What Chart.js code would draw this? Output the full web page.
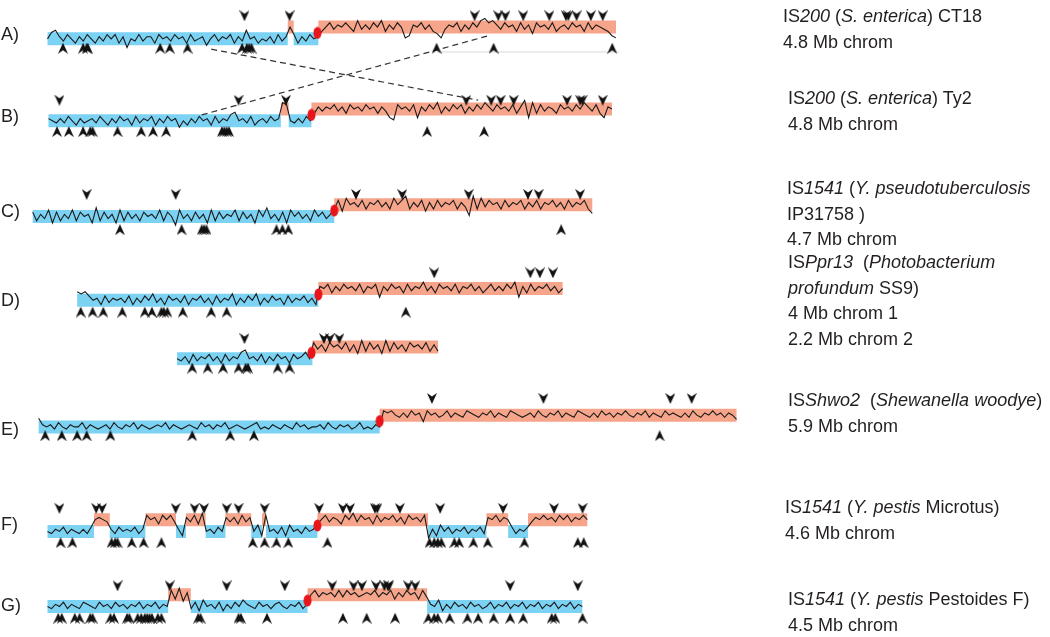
<!DOCTYPE html>
<html>
<head>
<meta charset="utf-8">
<script src="https://cdn.jsdelivr.net/npm/chart.js@4.4.1/dist/chart.umd.min.js"></script>
<style>
  html, body { margin: 0; padding: 0; background: #fff; }
  #wrap { position: relative; width: 1050px; height: 637px; }
  #map { position: absolute; left: 0; top: 0; }
  .lbl { position: absolute; font-family: 'Liberation Sans', Arial, sans-serif; font-size: 18px; color: #231f20; line-height: 25.5px; white-space: nowrap; }
</style>
</head>
<body>
<div id="wrap">
  <canvas id="map" width="1050" height="637"></canvas>
  <div class="lbl" style="left:1px;top:22px">A)</div>
  <div class="lbl" style="left:1px;top:104px">B)</div>
  <div class="lbl" style="left:1px;top:199px">C)</div>
  <div class="lbl" style="left:1px;top:288px">D)</div>
  <div class="lbl" style="left:1px;top:417px">E)</div>
  <div class="lbl" style="left:1px;top:512px">F)</div>
  <div class="lbl" style="left:1px;top:593px">G)</div>

  <div class="lbl" style="left:783px;top:4px">IS<i>200</i> (<i>S. enterica</i>) CT18<br>4.8 Mb chrom</div>
  <div class="lbl" style="left:788px;top:86px">IS<i>200</i> (<i>S. enterica</i>) Ty2<br>4.8 Mb chrom</div>
  <div class="lbl" style="left:787px;top:176px">IS<i>1541</i> (<i>Y. pseudotuberculosis</i><br>IP31758 )<br>4.7 Mb chrom</div>
  <div class="lbl" style="left:788px;top:250px">IS<i>Ppr13</i>&nbsp; (<i>Photobacterium</i><br><i>profundum</i> SS9)<br>4 Mb chrom 1<br>2.2 Mb chrom 2</div>
  <div class="lbl" style="left:788px;top:388px">IS<i>Shwo2</i>&nbsp; (<i>Shewanella woodye</i>)<br>5.9 Mb chrom</div>
  <div class="lbl" style="left:785px;top:495px">IS<i>1541</i> (<i>Y. pestis</i> Microtus)<br>4.6 Mb chrom</div>
  <div class="lbl" style="left:788px;top:587px">IS<i>1541</i> (<i>Y. pestis</i> Pestoides F)<br>4.5 Mb chrom</div>
</div>
<script>
// chromosomes drawn on one shared axis, positions in Mb
const tracks = ['A', 'B', 'C', 'D1', 'D2', 'E', 'F', 'G'];

// band breakpoints (Mb) and strand of each band (0 = blue, 1 = salmon)
const breaksA = [0.350, 2.375, 2.425, 2.633, 5.142];
const strandA = [0, 1, 0, 1];
const breaksB = [0.358, 2.317, 2.383, 2.575, 5.108];
const strandB = [0, 1, 0, 1];
const breaksC = [0.225, 2.767, 4.942];
const strandC = [0, 1];
const breaksD1 = [0.600, 2.633, 4.692];
const strandD1 = [0, 1];
const breaksD2 = [1.442, 2.583, 3.642];
const strandD2 = [0, 1];
const breaksE = [0.275, 3.150, 6.158];
const strandE = [0, 1];
const breaksF = [0.350, 0.742, 0.875, 1.175, 1.433, 1.517, 1.683, 1.850, 2.067, 2.158, 2.192, 2.625, 3.558, 4.050, 4.233, 4.400, 4.900];
const strandF = [0, 1, 0, 1, 0, 1, 0, 1, 0, 1, 0, 1, 0, 1, 0, 1];
const breaksG = [0.350, 1.367, 1.558, 2.542, 3.550, 4.858];
const strandG = [0, 1, 0, 1, 0];

// origin of replication (red dot)
const origins = [2.625, 2.575, 2.767, 2.633, 2.575, 3.150, 2.625, 2.542];

// IS copies: above the track and below the track
const topA = [2.01, 2.39, 3.95, 4.15, 4.21, 4.36, 4.58, 4.72, 4.74, 4.81, 4.93, 5.03];
const botA = [0.48, 0.65, 0.68, 0.69, 1.30, 1.38, 1.53, 1.99, 2.03, 2.05, 2.07, 3.63, 4.11, 5.11];
const topB = [0.45, 1.96, 2.36, 3.88, 4.09, 4.17, 4.28, 4.73, 4.84, 4.86, 5.03];
const botB = [0.43, 0.53, 0.65, 0.71, 0.73, 0.94, 1.14, 1.24, 1.35, 1.82, 1.84, 1.86, 1.88, 3.55, 4.03];
const topC = [0.68, 1.43, 2.95, 3.34, 3.90, 4.40, 4.49, 4.84];
const botC = [0.96, 1.48, 1.65, 1.67, 1.69, 2.28, 2.33, 2.38, 4.68];
const topD1 = [3.61, 4.42, 4.50, 4.61];
const botD1 = [0.63, 0.73, 0.82, 0.98, 1.17, 1.23, 1.31, 1.33, 1.36, 1.49, 1.73, 1.86, 3.37];
const topD2 = [2.01, 2.68, 2.73, 2.81];
const botD2 = [1.57, 1.70, 1.83, 1.96, 2.02, 2.04, 2.29, 2.39];
const topE = [3.59, 4.53, 5.60, 5.78];
const botE = [0.33, 0.47, 0.60, 0.68, 0.88, 1.57, 1.89, 2.09, 5.51];
const topF = [0.45, 0.76, 0.81, 1.43, 1.59, 1.67, 1.86, 1.96, 2.18, 2.64, 2.84, 2.90, 3.11, 3.13, 3.32, 3.66, 4.19, 4.62, 4.86];
const botF = [0.46, 0.56, 0.89, 0.92, 0.94, 1.06, 1.16, 1.31, 2.08, 2.18, 2.28, 2.38, 2.71, 3.57, 3.61, 3.64, 3.67, 3.78, 3.82, 3.94, 4.06, 4.37, 4.82, 4.87];
const topG = [0.94, 1.38, 1.86, 2.35, 2.75, 2.93, 3.00, 3.12, 3.19, 3.22, 3.23, 3.39, 3.45, 4.25, 4.82];
const botG = [0.44, 0.47, 0.58, 0.62, 0.71, 0.73, 0.88, 0.91, 1.02, 1.04, 1.11, 1.14, 1.17, 1.19, 1.21, 1.23, 1.28, 1.31, 1.62, 1.64, 1.96, 1.98, 2.20, 2.84, 3.04, 3.28, 3.56, 3.61, 3.64, 3.74, 3.89, 3.98, 4.11, 4.25, 4.36, 4.60, 4.63, 4.86];

// skew trace read along each track, one digit per sample (5 = zero)
const skewA = '5896475364 7536475736 1547466375 6475637456 2574657364 9563546374 6573647563 5746575384 6475836475 0165746320 4657364758 9786475637 4627564735 6475637465 4310';
const skewB = '6546475364 5647536475 6374657364 7562536475 6374658956 4735647568 7546475364 6574637564 7563641075 6471647583 6475736475 8647564736 9183746537 5647586473 165';
const skewC = '7364827364 8375629374 6283746375 6483751846 3746283746 5837462859 4637285746 3857463728 5647365746 3857936472 6374657364 0938475637 4657364736 5746374657 31';
const skewD1 = '9897563746 5647364758 4637564736 5746374658 3647583647 5637465746 3657364756 4736571647 5637465846 3756473657 4635746475 8163746574 635';
const skewD2 = '5463746574 6374658956 4736475637 5685746375 6473628374 6283746375 647363';
const skewE = '9656475465 5746545647 5465746545 6574654565 4756465745 6545674546 5465475645 5647546564 5745465767 5464756275 6457465476 5465746547 6545647546 5746547654 6475646575 4657465475 6546475465 7564653';
const skewF = '5465746546 4756546475 6574675637 5746364738 5647564637 4658375647 3856475635 7465375847 5637465746 3756472638 5746574657 4657465746 5746575647 5746575';
const skewG = '5465746547 6547564756 4657465746 5738264738 5647364758 6547564675 4657465746 5647475645 6574657364 7563746583 6475647564 5746574657 4657465746 57465';

// dashed links between the two S. enterica maps (Mb on upper / lower track)
const linkUpper = [1.73, 4.06];
const linkLower = [3.98, 1.65];

// ---- layout ----
const baseY = [33.5, 117, 214.5, 300, 359.5, 429, 535.5, 612];
const topY = [10, 96, 192, 272, 339, 400, 512, 591];
const botY = [43, 128, 228, 312, 369, 438, 547, 624];
const LEVEL = 12;
const AMP = 2.2;
const BLUE = '#7bd2f3';
const SALMON = '#f6a48a';

const allBreaks = [breaksA, breaksB, breaksC, breaksD1, breaksD2, breaksE, breaksF, breaksG];
const allStrands = [strandA, strandB, strandC, strandD1, strandD2, strandE, strandF, strandG];
const allTop = [topA, topB, topC, topD1, topD2, topE, topF, topG];
const allBot = [botA, botB, botC, botD1, botD2, botE, botF, botG];
const allSkew = [skewA, skewB, skewC, skewD1, skewD2, skewE, skewF, skewG];

function strandAt(breaks, strand, x) {
  for (let i = 0; i < strand.length; i++) {
    if (x < breaks[i + 1]) return strand[i];
  }
  return strand[strand.length - 1];
}

function arrowCanvas(up) {
  const c = document.createElement('canvas');
  c.width = 10; c.height = 11;
  const g = c.getContext('2d');
  g.fillStyle = '#111';
  g.beginPath();
  if (up) {
    g.moveTo(5, 0); g.lineTo(10, 11); g.lineTo(5, 7.5); g.lineTo(0, 11);
  } else {
    g.moveTo(0, 0); g.lineTo(5, 3.5); g.lineTo(10, 0); g.lineTo(5, 11);
  }
  g.closePath();
  g.fill();
  return c;
}

function dotCanvas() {
  const c = document.createElement('canvas');
  c.width = 9; c.height = 13;
  const g = c.getContext('2d');
  g.fillStyle = '#e8151b';
  g.beginPath();
  g.ellipse(4.5, 6.5, 4, 6, 0, 0, Math.PI * 2);
  g.fill();
  return c;
}

const blueBands = [], salmonBands = [], trace = [], upArrows = [], downArrows = [], dots = [];
tracks.forEach(function(name, t) {
  const br = allBreaks[t], st = allStrands[t];
  st.forEach(function(s, i) {
    const y = baseY[t] - s * LEVEL;
    const target = s ? salmonBands : blueBands;
    target.push({ x: br[i], y: y }, { x: br[i + 1], y: y }, { x: br[i + 1], y: null });
  });
  const digits = allSkew[t].replace(/\s/g, '');
  const x0 = br[0], x1 = br[br.length - 1];
  for (let i = 0; i < digits.length; i++) {
    const x = x0 + i * (x1 - x0) / (digits.length - 1);
    const lvl = strandAt(br, st, x);
    trace.push({ x: x, y: baseY[t] - lvl * LEVEL - (Number(digits[i]) - 5) * AMP });
  }
  trace.push({ x: x1, y: null });
  allTop[t].forEach(function(x) { downArrows.push({ x: x, y: topY[t] }); });
  allBot[t].forEach(function(x) { upArrows.push({ x: x, y: botY[t] }); });
  dots.push({ x: origins[t], y: baseY[t] - LEVEL / 2 });
});

const links = [
  { x: linkUpper[0], y: baseY[0] + 10.5 }, { x: linkLower[0], y: baseY[1] - 21 }, { x: linkLower[0], y: null },
  { x: linkLower[1], y: baseY[1] - 6 }, { x: linkUpper[1], y: baseY[0] - 3 }
];
const faint = [{ x: botA[11], y: baseY[0] + 13.5 }, { x: 5.17, y: baseY[0] + 13.5 }];

const ctx = document.getElementById('map').getContext('2d');
new Chart(ctx, {
  type: 'scatter',
  data: {
    datasets: [
      { data: dots, pointStyle: dotCanvas(), pointRadius: 5, order: 1 },
      { data: downArrows, pointStyle: arrowCanvas(false), pointRadius: 5, order: 2 },
      { data: upArrows, pointStyle: arrowCanvas(true), pointRadius: 5, order: 2 },
      { data: trace, showLine: true, borderColor: '#1b1b1b', borderWidth: 1.1, pointRadius: 0, spanGaps: false, order: 5 },
      { data: links, showLine: true, borderColor: '#333', borderWidth: 1.2, borderDash: [6, 4], pointRadius: 0, spanGaps: false, order: 6 },
      { data: faint, showLine: true, borderColor: '#e4e4e4', borderWidth: 1.5, pointRadius: 0, order: 7 },
      { data: blueBands, showLine: true, borderColor: BLUE, borderWidth: 13, borderCapStyle: 'butt', pointRadius: 0, spanGaps: false, order: 10 },
      { data: salmonBands, showLine: true, borderColor: SALMON, borderWidth: 13, borderCapStyle: 'butt', pointRadius: 0, spanGaps: false, order: 10 }
    ]
  },
  options: {
    responsive: false,
    animation: false,
    layout: { padding: 0 },
    plugins: { legend: { display: false }, tooltip: { enabled: false } },
    scales: {
      x: { type: 'linear', min: 0, max: 8.75, display: false },
      y: { type: 'linear', min: 0, max: 637, reverse: true, display: false }
    }
  }
});
</script>
</body>
</html>
